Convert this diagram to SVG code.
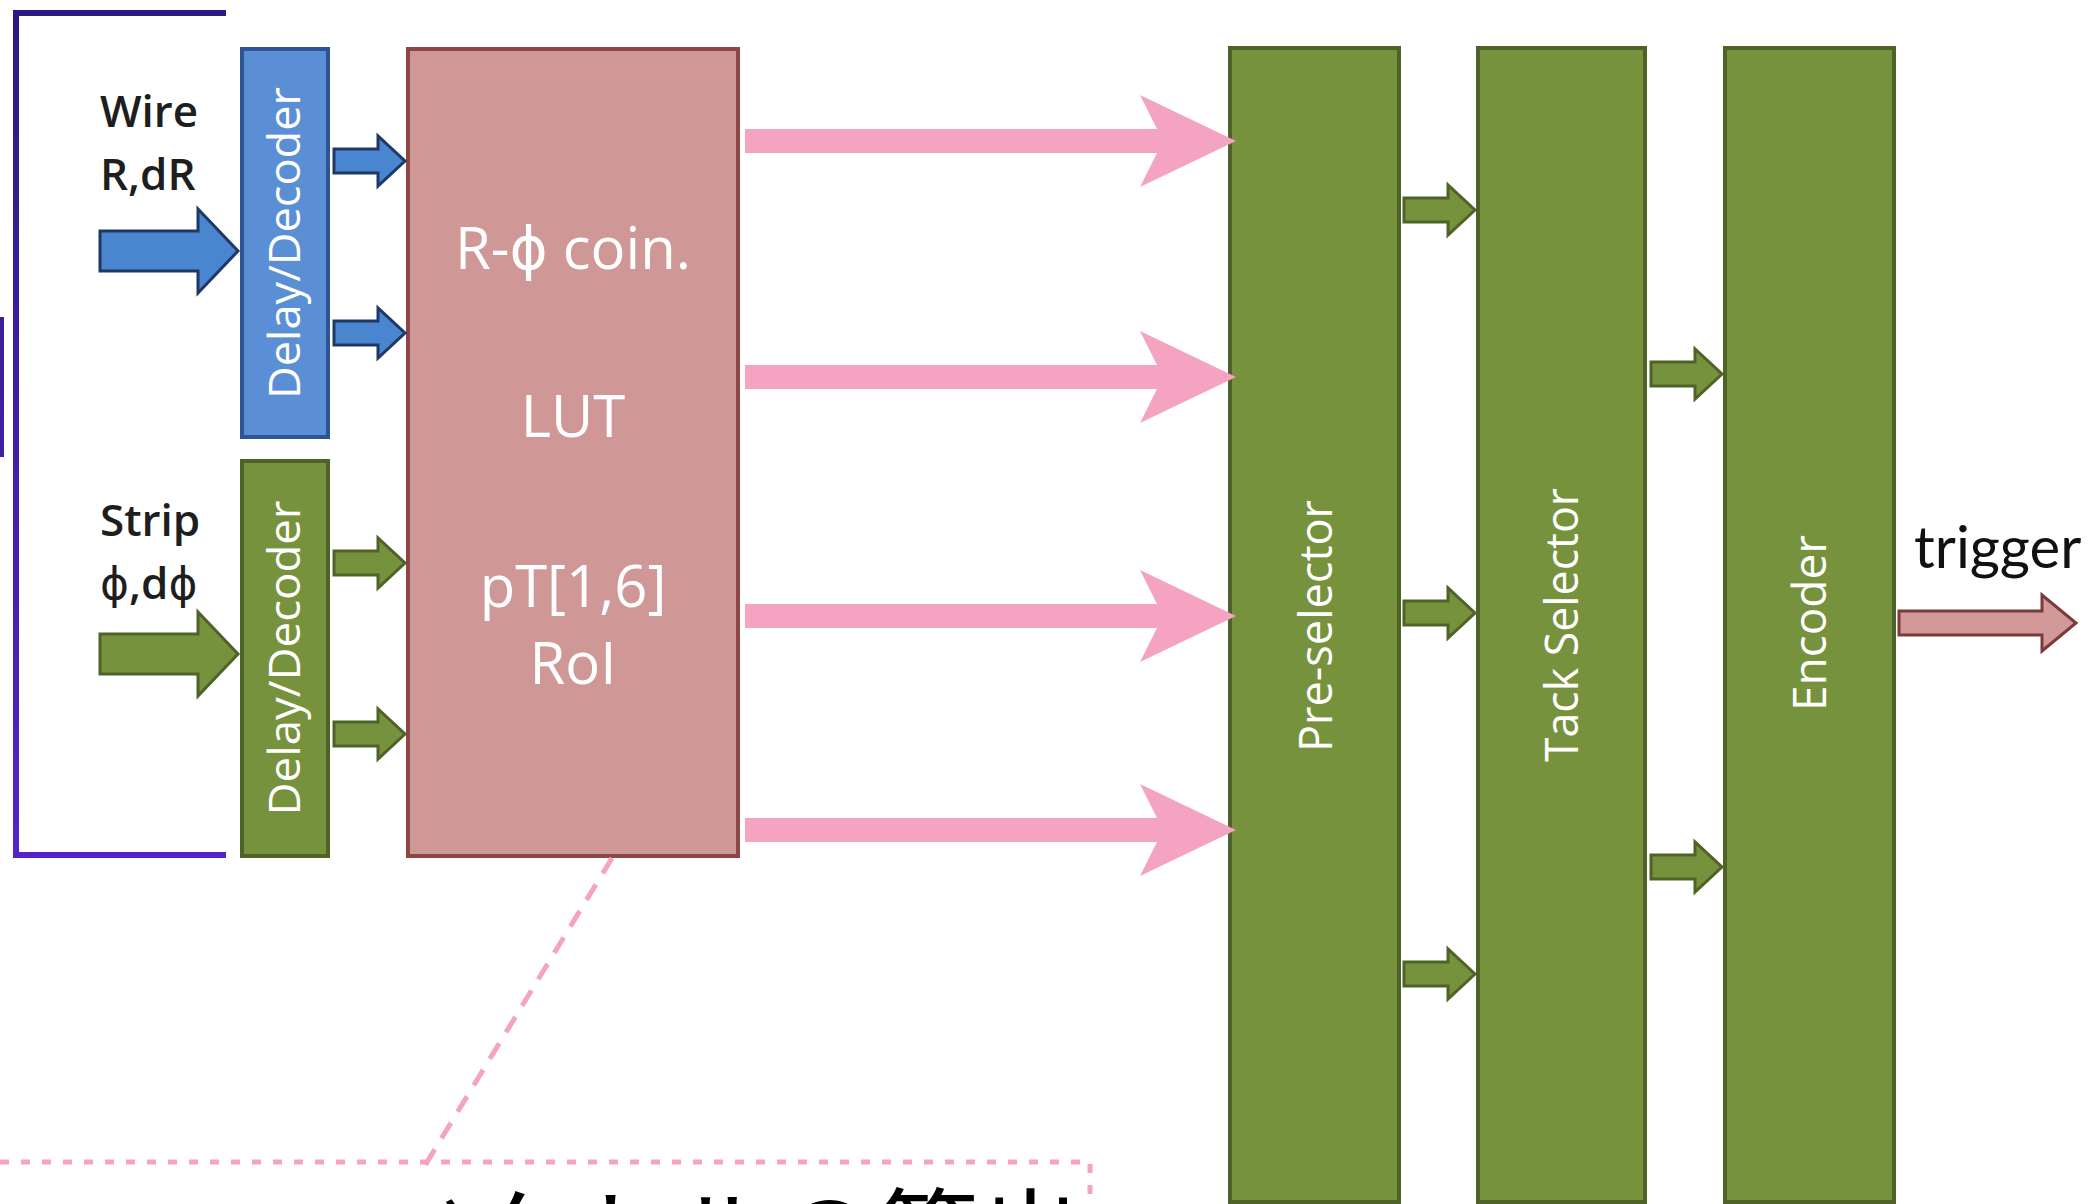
<svg xmlns="http://www.w3.org/2000/svg" xmlns:xlink="http://www.w3.org/1999/xlink" width="2097" height="1204" viewBox="0 0 2097 1204">
<style>
.box-blue{fill:#5b8fd5;stroke:#2f5496;stroke-width:4}
.box-green{fill:#77923c;stroke:#4f6228;stroke-width:4}
.box-red{fill:#cf9896;stroke:#8c4645;stroke-width:4}
.lbl-w{fill:#ffffff;font-family:"Open Sans","DejaVu Sans",sans-serif}
.lbl-k{fill:#1e1e1e;font-family:"Open Sans","DejaVu Sans",sans-serif;font-weight:600;font-size:44px}
.phi{font-weight:400}
.arr-blue{fill:#4a85d0;stroke:#1f3864;stroke-width:3;stroke-linejoin:miter}
.arr-green{fill:#76923c;stroke:#4f6228;stroke-width:3}
.arr-pink{fill:#f4a4c0;stroke:none}
.arr-trig{fill:#d19a98;stroke:#7a3b3b;stroke-width:3}
.dash-pink{fill:none;stroke:#f4a4c0;stroke-width:5}
</style>
<defs>
<linearGradient id="purpleGrad" gradientUnits="userSpaceOnUse" x1="0" y1="0" x2="0" y2="860">
<stop offset="0" stop-color="#2a1a84"/>
<stop offset="1" stop-color="#5524c8"/>
</linearGradient>
<path id="bigArrow" d="M-138,-20 H-40 V-42 L0,0 L-40,42 V20 H-138 Z"/>
<path id="smallArrow" d="M-71,-12 H-27 V-25 L0,0 L-27,25 V12 H-71 Z"/>
<path id="pinkArrow" d="M-491,-12 H-79 L-96,-46 L0,0 L-96,46 L-79,12 H-491 Z"/>
</defs>
<rect width="2097" height="1204" fill="#ffffff"/>

<g id="bracket">
<path d="M226,13 H16 V855 H226" fill="none" stroke="url(#purpleGrad)" stroke-width="6"/>
<line x1="2" y1="317" x2="2" y2="457" stroke="url(#purpleGrad)" stroke-width="4"/>
</g>

<g id="label-wire">
<text class="lbl-k" x="100" y="127">Wire</text>
<text class="lbl-k" x="100" y="190">R,dR</text>
</g>
<g id="label-strip">
<text class="lbl-k" x="100" y="536">Strip</text>
<text class="lbl-k" x="100" y="599"><tspan class="phi">ϕ</tspan>,d<tspan class="phi">ϕ</tspan></text>
</g>

<g id="node-delay-wire">
<rect class="box-blue" x="242" y="49" width="86" height="388"/>
<text class="lbl-w" transform="translate(285,243) rotate(-90)" text-anchor="middle" dy="15" font-size="44" textLength="312" lengthAdjust="spacingAndGlyphs">Delay/Decoder</text>
</g>
<g id="node-delay-strip">
<rect class="box-green" x="242" y="461" width="86" height="395"/>
<text class="lbl-w" transform="translate(285,658) rotate(-90)" text-anchor="middle" dy="15" font-size="44" textLength="315" lengthAdjust="spacingAndGlyphs">Delay/Decoder</text>
</g>

<g id="node-coin">
<rect class="box-red" x="408" y="49" width="330" height="807"/>
<text class="lbl-w" x="573" y="269" text-anchor="middle" font-size="58">R-ϕ coin.</text>
<text class="lbl-w" x="573" y="437" text-anchor="middle" font-size="58">LUT</text>
<text class="lbl-w" x="573" y="607" text-anchor="middle" font-size="58">pT[1,6]</text>
<text class="lbl-w" x="573" y="684" text-anchor="middle" font-size="58">RoI</text>
</g>

<g id="node-preselector">
<rect class="box-green" x="1230" y="48" width="169" height="1154"/>
<text class="lbl-w" transform="translate(1316,626) rotate(-90)" text-anchor="middle" dy="16" font-size="46" textLength="252" lengthAdjust="spacingAndGlyphs">Pre-selector</text>
</g>
<g id="node-trackselector">
<rect class="box-green" x="1478" y="48" width="167" height="1154"/>
<text class="lbl-w" transform="translate(1562,625) rotate(-90)" text-anchor="middle" dy="16" font-size="46" textLength="274" lengthAdjust="spacingAndGlyphs">Tack Selector</text>
</g>
<g id="node-encoder">
<rect class="box-green" x="1725" y="48" width="169" height="1154"/>
<text class="lbl-w" transform="translate(1810,623) rotate(-90)" text-anchor="middle" dy="16" font-size="46" textLength="176" lengthAdjust="spacingAndGlyphs">Encoder</text>
</g>

<g id="label-trigger">
<text x="1914" y="568" font-family="Lato,'Open Sans',sans-serif" font-size="58" fill="#111111">trigger</text>
</g>

<g id="connectors">
<use xlink:href="#bigArrow" href="#bigArrow" class="arr-blue" x="238" y="251"/>
<use xlink:href="#bigArrow" href="#bigArrow" class="arr-green" x="238" y="654"/>
<use xlink:href="#smallArrow" href="#smallArrow" class="arr-blue" x="405" y="161"/>
<use xlink:href="#smallArrow" href="#smallArrow" class="arr-blue" x="405" y="333"/>
<use xlink:href="#smallArrow" href="#smallArrow" class="arr-green" x="405" y="563"/>
<use xlink:href="#smallArrow" href="#smallArrow" class="arr-green" x="405" y="734"/>
<use xlink:href="#pinkArrow" href="#pinkArrow" class="arr-pink" x="1236" y="141"/>
<use xlink:href="#pinkArrow" href="#pinkArrow" class="arr-pink" x="1236" y="377"/>
<use xlink:href="#pinkArrow" href="#pinkArrow" class="arr-pink" x="1236" y="616"/>
<use xlink:href="#pinkArrow" href="#pinkArrow" class="arr-pink" x="1236" y="830"/>
<use xlink:href="#smallArrow" href="#smallArrow" class="arr-green" x="1475" y="210"/>
<use xlink:href="#smallArrow" href="#smallArrow" class="arr-green" x="1475" y="613"/>
<use xlink:href="#smallArrow" href="#smallArrow" class="arr-green" x="1475" y="974"/>
<use xlink:href="#smallArrow" href="#smallArrow" class="arr-green" x="1722" y="374"/>
<use xlink:href="#smallArrow" href="#smallArrow" class="arr-green" x="1722" y="867"/>
<path class="arr-trig" d="M1899,611 H2042 V595 L2076,623 L2042,651 V635 H1899 Z"/>
<line class="dash-pink" x1="612" y1="858" x2="421" y2="1172" stroke-dasharray="18 13"/>
</g>

<g id="callout">
<path class="dash-pink" d="M0,1162 H1090 V1204" stroke-dasharray="9 12"/>
<text x="1082" y="1274" text-anchor="end" font-family="'Noto Sans CJK JP',sans-serif" font-size="102" fill="#000000">ベクトルの算出</text>
</g>
</svg>
